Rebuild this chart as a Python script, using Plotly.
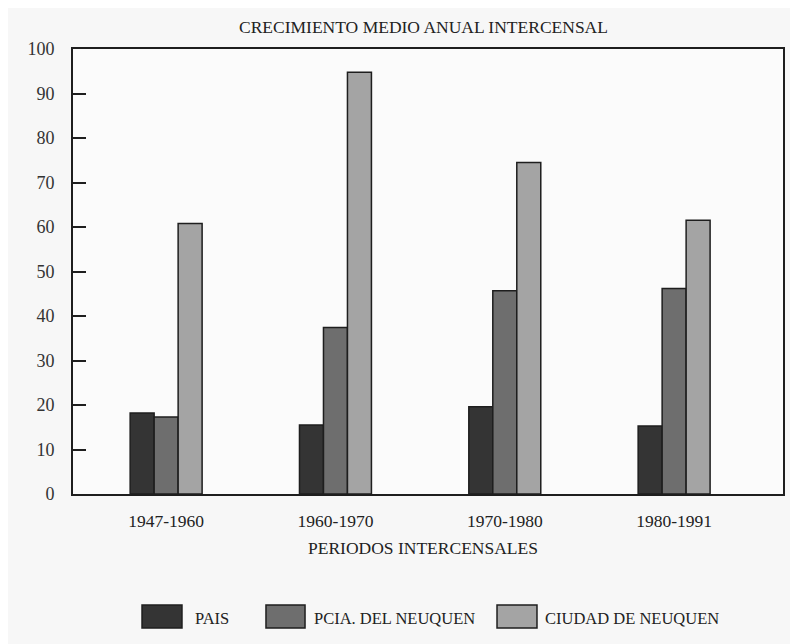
import plotly.graph_objects as go

periods = ["1947-1960", "1960-1970", "1970-1980", "1980-1991"]
pais = [18.2, 15.5, 19.6, 15.3]
pcia = [17.3, 37.4, 45.7, 46.2]
ciudad = [60.8, 94.8, 74.5, 61.5]
series_names = ["PAIS", "PCIA. DEL NEUQUEN", "CIUDAD DE NEUQUEN"]
y_ticks = [0, 10, 20, 30, 40, 50, 60, 70, 80, 90, 100]

FONT = "Liberation Serif, DejaVu Serif, serif"
colors = ["#343434", "#6e6e6e", "#a4a4a4"]
EDGE = "#1e1e1e"

fig = go.Figure()
for name, vals, col in zip(series_names, [pais, pcia, ciudad], colors):
    fig.add_trace(go.Bar(
        x=periods, y=vals, name=name, showlegend=False,
        marker=dict(color=col, line=dict(color=EDGE, width=1.5)),
    ))

# custom legend (large boxes like the original)
legend_box_x = [(0.0972, 0.1535), (0.2718, 0.3268), (0.5972, 0.6535)]
legend_text_x = [0.169, 0.3366, 0.662]
shapes = []
annotations = []
for (x0, x1), tx, name, col in zip(legend_box_x, legend_text_x, series_names, colors):
    shapes.append(dict(type="rect", xref="paper", yref="paper", x0=x0, x1=x1,
                       y0=-0.3011, y1=-0.2494, fillcolor=col,
                       line=dict(color=EDGE, width=1.5)))
    annotations.append(dict(text=name, x=tx, y=-0.2787, xref="paper", yref="paper",
                            xanchor="left", yanchor="middle", showarrow=False,
                            font=dict(size=16.5, family=FONT, color="#222222")))

annotations += [
    dict(text="CRECIMIENTO MEDIO ANUAL INTERCENSAL", x=0.493, y=1.0764, xref="paper",
         yref="paper", showarrow=False, font=dict(size=17.5, family=FONT, color="#222222")),
    dict(text="PERIODOS INTERCENSALES", x=0.493, y=-0.1483, xref="paper", yref="paper",
         showarrow=False, font=dict(size=17.5, family=FONT, color="#222222")),
]

fig.update_layout(
    width=790, height=636,
    margin=dict(l=65, r=15, t=41, b=150),
    paper_bgcolor="#f7f7f7", plot_bgcolor="#fbfbfb",
    barmode="group", bargap=0.575, bargroupgap=0,
    font=dict(family=FONT, color="#222222", size=17),
    showlegend=False,
    xaxis=dict(range=[-0.55, 3.643], showline=True, linecolor=EDGE, linewidth=2,
               mirror=True, ticks="", tickfont=dict(size=17.5, family=FONT, color="#222222"),
               ticklabelstandoff=10, showgrid=False),
    yaxis=dict(range=[0, 100], tickvals=y_ticks, showline=True, linecolor=EDGE,
               linewidth=2, mirror=True, ticks="inside", ticklen=13, tickwidth=2,
               tickcolor=EDGE, showgrid=False, zeroline=False,
               tickfont=dict(size=18, family=FONT, color="#333333"), ticklabelstandoff=13),
    shapes=shapes,
    annotations=annotations,
)

fig.write_html("out.html")
